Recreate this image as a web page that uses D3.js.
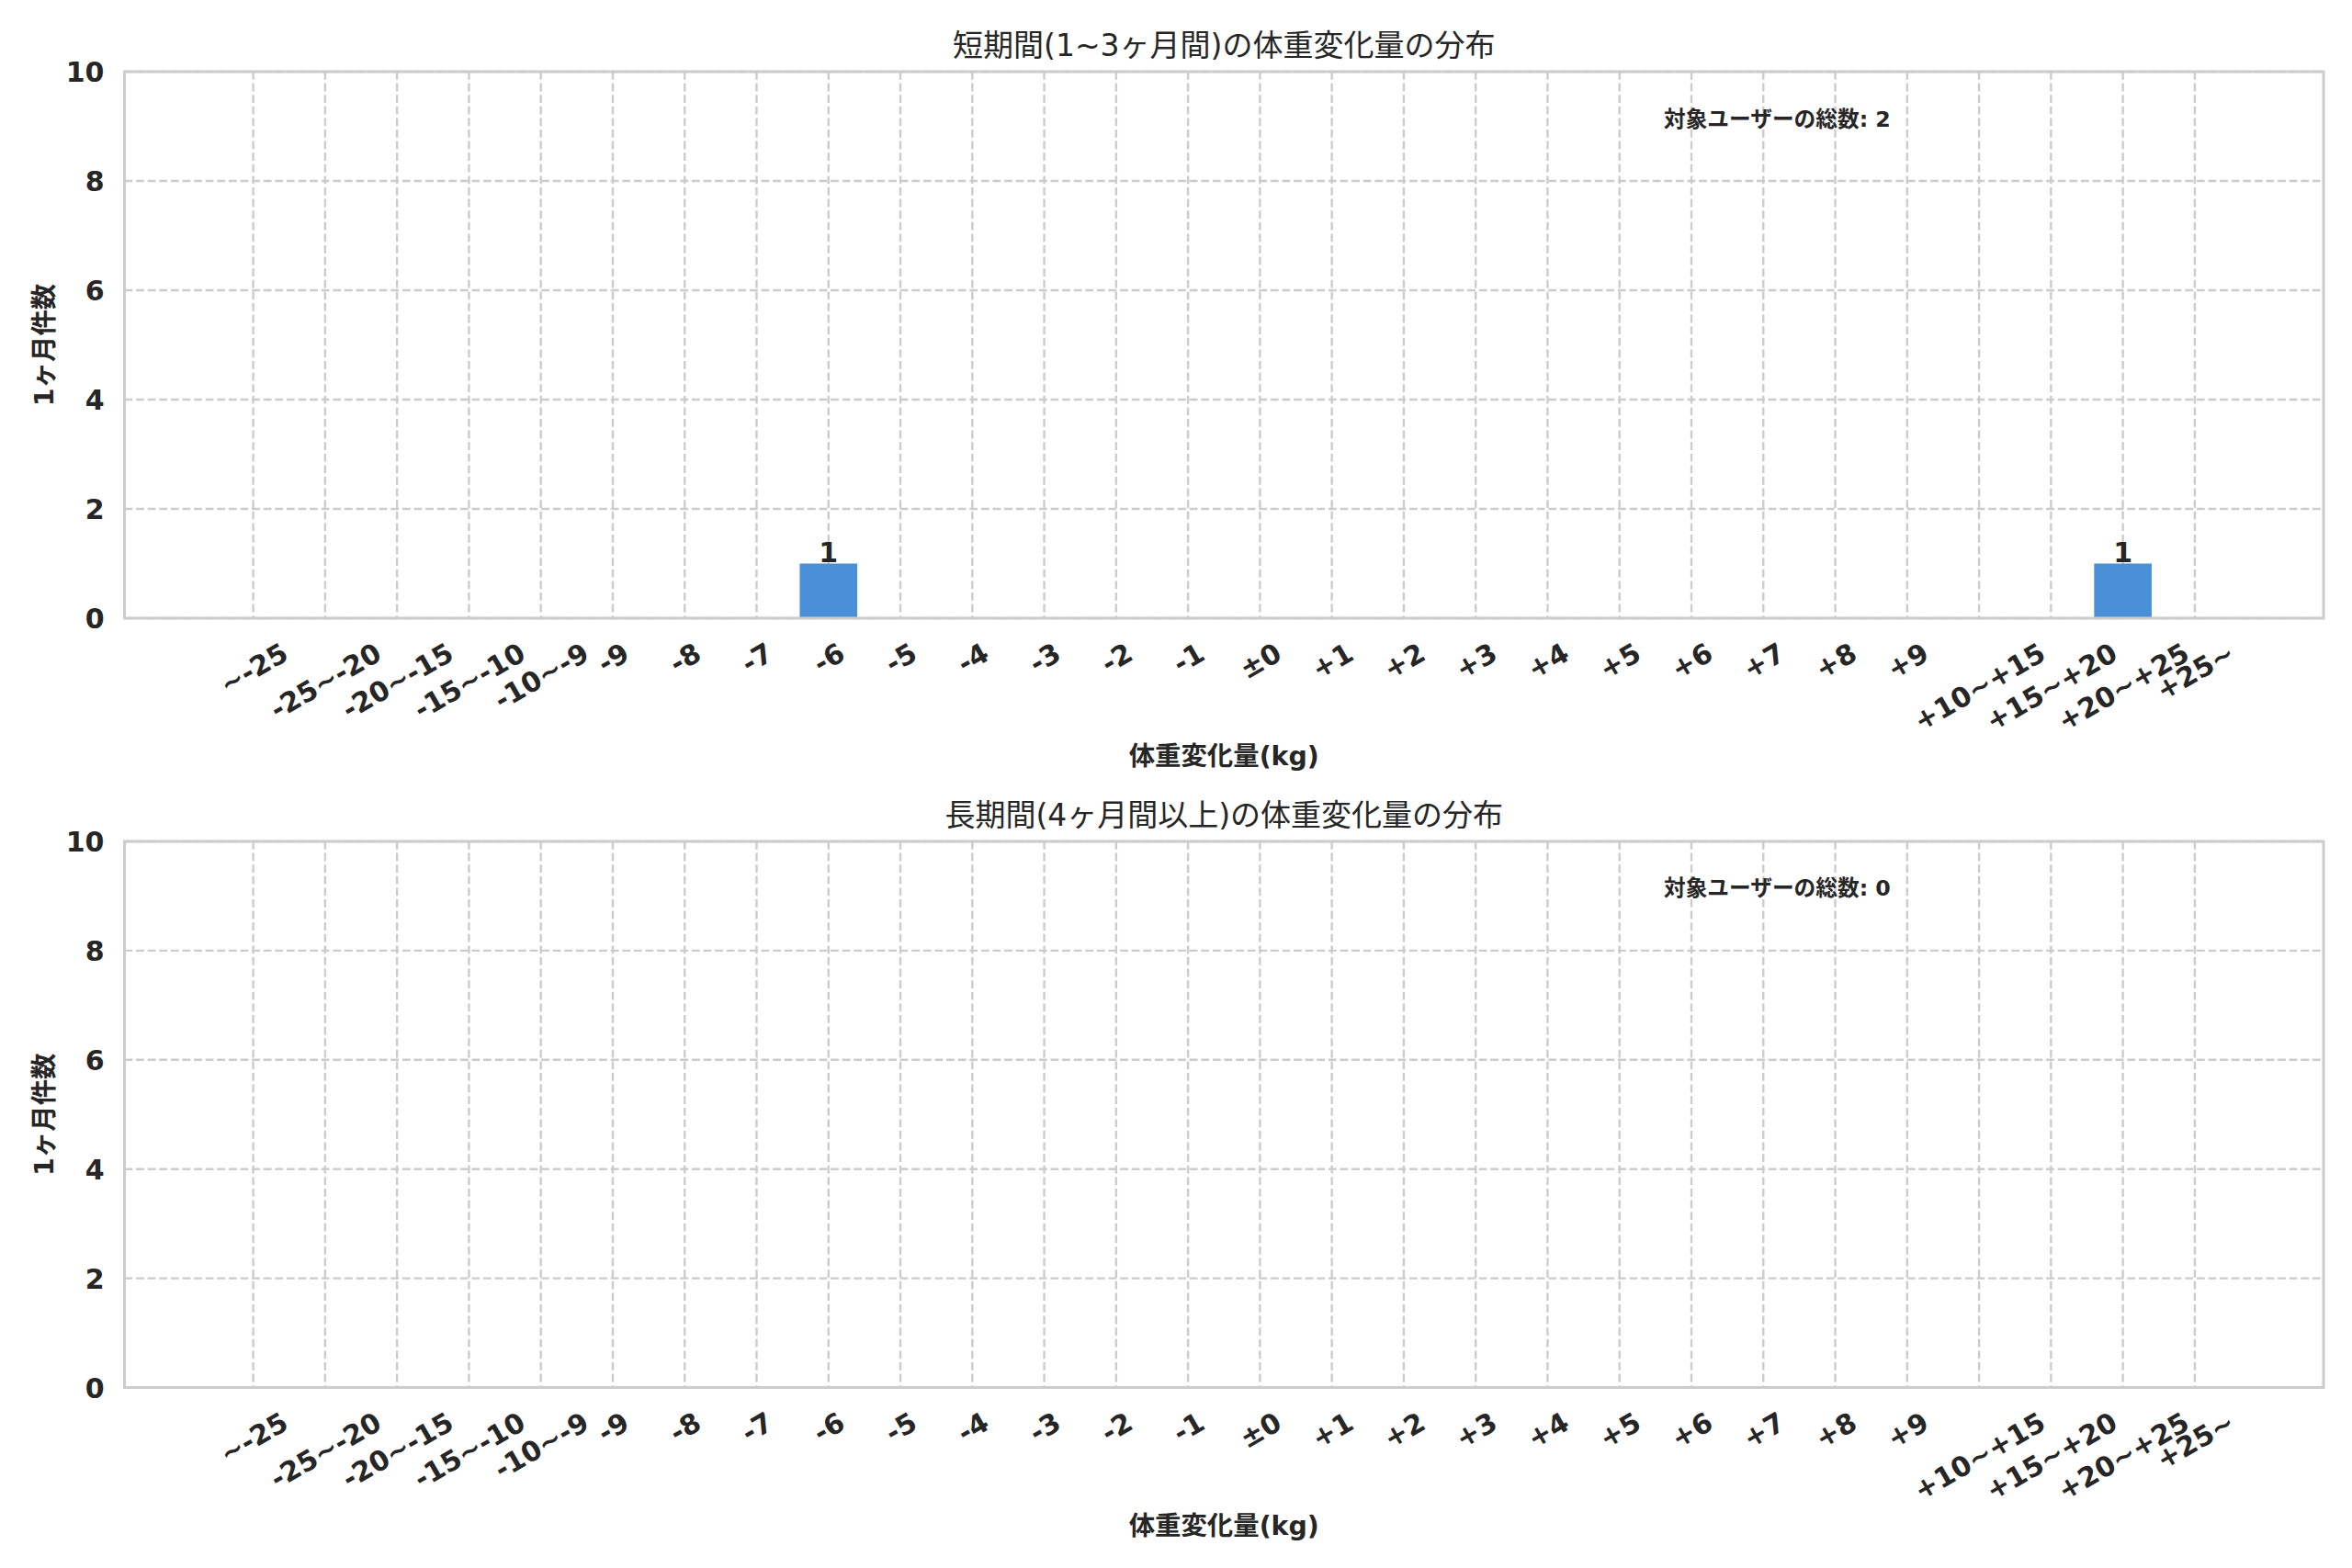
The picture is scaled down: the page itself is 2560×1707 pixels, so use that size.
<!DOCTYPE html>
<html lang="ja">
<head>
  <meta charset="UTF-8">
  <title>体重変化量の分布</title>
  <style>
    body { margin: 0; background: #fff; }
    text { font-family: "DejaVu Sans", "Noto Sans CJK JP", sans-serif; fill: #262626; }
  </style>
</head>
<body>
  <script src="https://d3js.org/d3.v7.min.js"></script>
  <script>
    // カテゴリ(体重変化量のビン)
    const categories = [
      '~-25', '-25~-20', '-20~-15', '-15~-10', '-10~-9',
      '-9', '-8', '-7', '-6', '-5', '-4', '-3', '-2', '-1',
      '±0',
      '+1', '+2', '+3', '+4', '+5', '+6', '+7', '+8', '+9',
      '+10~+15', '+15~+20', '+20~+25', '+25~'
    ];
    const countsShort = [0, 0, 0, 0, 0, 0, 0, 0, 1, 0, 0, 0, 0, 0, 0, 0, 0, 0, 0, 0, 0, 0, 0, 0, 0, 0, 1, 0];
    const countsLong  = [0, 0, 0, 0, 0, 0, 0, 0, 0, 0, 0, 0, 0, 0, 0, 0, 0, 0, 0, 0, 0, 0, 0, 0, 0, 0, 0, 0];
    const yTicks = [0, 2, 4, 6, 8, 10];
    const titles = ['短期間(1~3ヶ月間)の体重変化量の分布', '長期間(4ヶ月間以上)の体重変化量の分布'];
    const yLabel = '1ヶ月件数';
    const xLabel = '体重変化量(kg)';
    const totalLabel = '対象ユーザーの総数';

    const W = 2560, H = 1707;
    const left = 135.5, right = 2529;
    const panels = [
      { top: 78, bottom: 673, counts: countsShort, title: titles[0] },
      { top: 916, bottom: 1510.5, counts: countsLong, title: titles[1] }
    ];

    const svg = d3.select('body').append('svg')
      .attr('width', W)
      .attr('height', H);

    // matplotlib のデフォルトマージン(5%)に合わせる
    const barW = 0.8;
    const lo = -barW / 2, hi = categories.length - 1 + barW / 2;
    const m = (hi - lo) * 0.05;
    const x = d3.scaleLinear().domain([lo - m, hi + m]).range([left, right]);
    const unit = x(1) - x(0);

    const gridColor = '#cccccc';
    const tickFs = 30;

    panels.forEach(p => {
      const g = svg.append('g');
      const y = d3.scaleLinear().domain([0, 10]).range([p.bottom, p.top]);

      // grid
      g.append('g').selectAll('line')
        .data(yTicks)
        .join('line')
        .attr('x1', left).attr('x2', right)
        .attr('y1', d => y(d)).attr('y2', d => y(d))
        .attr('stroke', gridColor)
        .attr('stroke-width', 2.4)
        .attr('stroke-dasharray', '8.8,3.8');
      g.append('g').selectAll('line')
        .data(categories.map((c, i) => i))
        .join('line')
        .attr('x1', d => x(d)).attr('x2', d => x(d))
        .attr('y1', p.top).attr('y2', p.bottom)
        .attr('stroke', gridColor)
        .attr('stroke-width', 2.4)
        .attr('stroke-dasharray', '8.8,3.8');

      // bars
      const nonzero = p.counts.map((v, i) => ({ v, i })).filter(d => d.v > 0);
      g.append('g').selectAll('rect')
        .data(nonzero)
        .join('rect')
        .attr('x', d => x(d.i - barW / 2))
        .attr('width', unit * barW)
        .attr('y', d => y(d.v))
        .attr('height', d => y(0) - y(d.v))
        .attr('fill', '#4a90d9');

      g.append('g').selectAll('text')
        .data(nonzero)
        .join('text')
        .attr('x', d => x(d.i))
        .attr('y', d => y(d.v) - 2)
        .attr('text-anchor', 'middle')
        .style('font-size', tickFs + 'px')
        .style('font-weight', 'bold')
        .text(d => d.v);

      // spines
      g.append('rect')
        .attr('x', left).attr('y', p.top)
        .attr('width', right - left).attr('height', p.bottom - p.top)
        .attr('fill', 'none')
        .attr('stroke', gridColor)
        .attr('stroke-width', 3);

      // y axis
      const ya = g.append('g')
        .attr('transform', `translate(${left - 22},0)`)
        .call(d3.axisLeft(y).tickValues(yTicks).tickSize(0).tickPadding(0));
      ya.select('.domain').remove();
      ya.selectAll('text')
        .attr('dy', '0.36em')
        .style('font-size', tickFs + 'px')
        .style('font-weight', 'bold')
        .style('fill', '#262626');

      // x axis
      const xa = g.append('g')
        .attr('transform', `translate(0,${p.bottom})`)
        .call(d3.axisBottom(x).tickValues(categories.map((c, i) => i))
          .tickFormat(i => categories[i]).tickSize(0).tickPadding(0));
      xa.select('.domain').remove();
      const ang = 30 * Math.PI / 180;
      xa.selectAll('text')
        .attr('y', 0).attr('dy', '0.35em')
        .attr('text-anchor', 'middle')
        .style('font-size', tickFs + 'px')
        .style('font-weight', 'bold')
        .style('fill', '#262626')
        .each(function () {
          const w = this.getComputedTextLength();
          const h = tickFs;
          const cy = 22 + (w * Math.sin(ang) + h * Math.cos(ang)) / 2;
          d3.select(this).attr('transform', `translate(0,${cy}) rotate(-30)`);
        });

      // labels
      g.append('text')
        .attr('x', (left + right) / 2)
        .attr('y', p.top - 17)
        .attr('text-anchor', 'middle')
        .style('font-size', '33px')
        .text(p.title);

      g.append('text')
        .attr('x', (left + right) / 2)
        .attr('y', p.bottom + 160)
        .attr('text-anchor', 'middle')
        .style('font-size', '28.4px')
        .style('font-weight', 'bold')
        .text(xLabel);

      g.append('text')
        .attr('transform', `translate(58,${(p.top + p.bottom) / 2}) rotate(-90)`)
        .attr('text-anchor', 'middle')
        .style('font-size', '28.4px')
        .style('font-weight', 'bold')
        .text(yLabel);

      g.append('text')
        .attr('x', left + 0.7 * (right - left))
        .attr('y', y(9))
        .style('font-size', '23.7px')
        .style('font-weight', 'bold')
        .text(`${totalLabel}: ${d3.sum(p.counts)}`);
    });
  </script>
</body>
</html>
